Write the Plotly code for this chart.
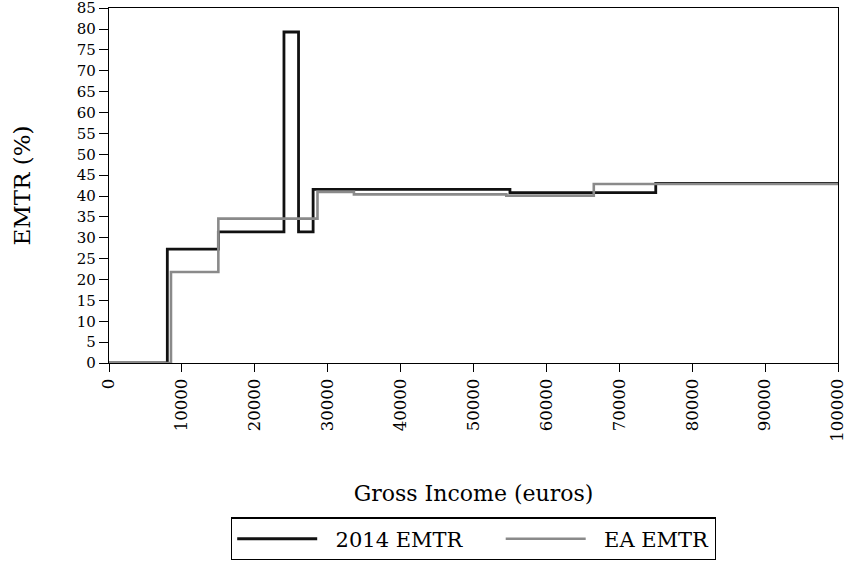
import plotly.graph_objects as go

# 2014 EMTR step function (income breakpoints, rate from that point on)
x_2014 = [0, 8000, 15000, 24000, 26000, 28000, 55000, 75000, 100000]
y_2014 = [0, 27.3, 31.4, 79.3, 31.4, 41.6, 40.8, 43.0, 43.0]

# EA EMTR step function
x_ea = [0, 8500, 15000, 28600, 33600, 54500, 66500, 100000]
y_ea = [0, 21.8, 34.6, 41.0, 40.4, 40.1, 42.9, 42.9]

x_ticks = [0, 10000, 20000, 30000, 40000, 50000, 60000, 70000, 80000, 90000, 100000]
y_ticks = list(range(0, 90, 5))

series_names = ["2014 EMTR", "EA EMTR"]

font_family = "DejaVu Serif"
NB = "\u00a0"

fig = go.Figure()
fig.add_trace(go.Scatter(x=x_2014, y=y_2014, mode="lines", line_shape="hv",
                         name=NB * 2 + series_names[0] + NB * 5,
                         line=dict(color="#111111", width=2.8)))
fig.add_trace(go.Scatter(x=x_ea, y=y_ea, mode="lines", line_shape="hv",
                         name=NB * 2 + series_names[1],
                         line=dict(color="#8a8a8a", width=2.6)))

fig.update_layout(
    width=847, height=565,
    margin=dict(l=109, r=9, t=8, b=202, autoexpand=False),
    paper_bgcolor="white", plot_bgcolor="white",
    font=dict(family=font_family, color="black", size=15),
    showlegend=True,
    legend=dict(orientation="h", x=0.5, xanchor="center", y=-0.435, yanchor="top",
                bordercolor="black", borderwidth=1.2, font=dict(size=21, family=font_family),
                itemwidth=80, tracegroupgap=0),
)
fig.update_xaxes(range=[0, 100000], tickvals=x_ticks, ticktext=[str(v) for v in x_ticks],
                 tickangle=-90, ticks="outside", ticklen=8, tickcolor="black",
                 showline=True, linecolor="black", linewidth=1.2, mirror=True,
                 showgrid=False, zeroline=False, tickfont=dict(size=16.5), automargin=False,
                 ticklabeloverflow="allow",
                 title=dict(text="Gross Income (euros)", font=dict(size=22), standoff=44))
fig.update_yaxes(range=[0, 85.05], tickvals=y_ticks, ticks="outside", ticklen=9, tickcolor="black",
                 showline=True, linecolor="black", linewidth=1.2, mirror=True,
                 showgrid=False, zeroline=False, tickfont=dict(size=15), automargin=False,
                 ticklabeloverflow="allow",
                 title=dict(text="EMTR (%)", font=dict(size=23), standoff=39))

fig.write_html("out.html", config={"displayModeBar": False},
               post_script="document.body.style.margin='0';")
